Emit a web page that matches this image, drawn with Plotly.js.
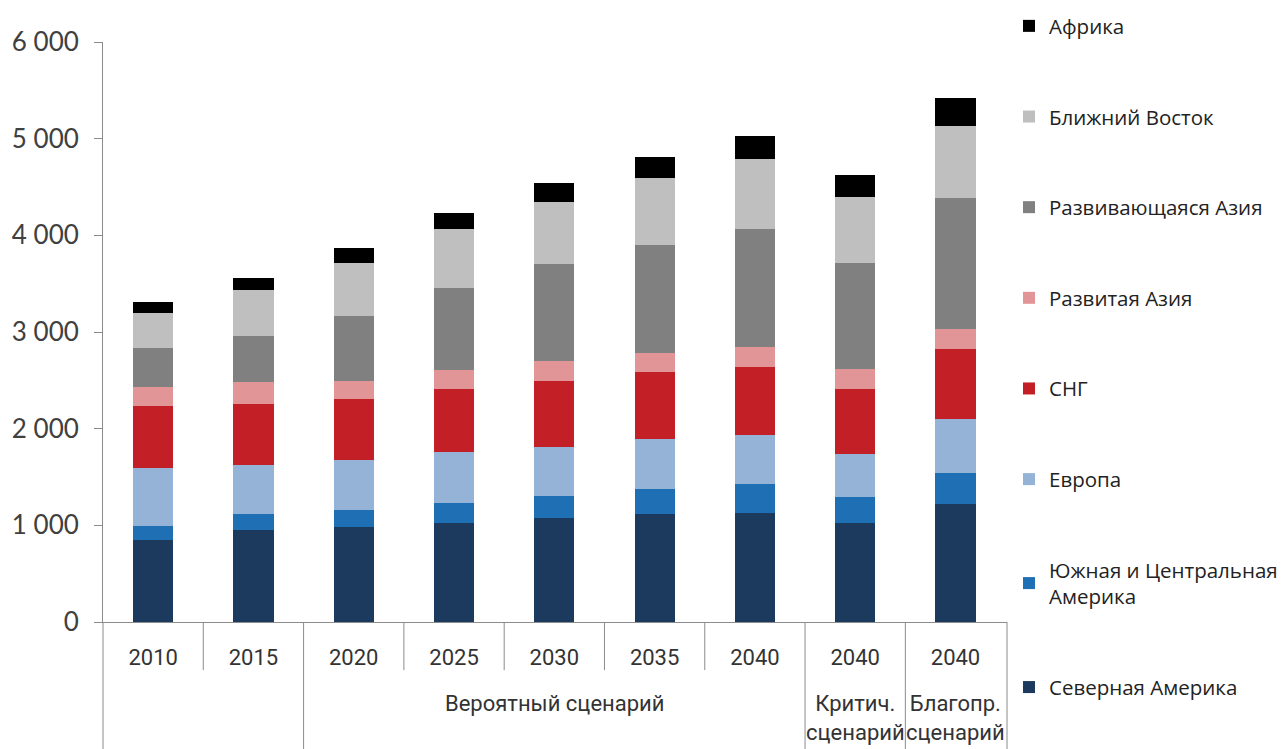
<!DOCTYPE html>
<html>
<head>
<meta charset="utf-8">
<script src="https://cdn.plot.ly/plotly-3.0.1.min.js"></script>
<style>
  html, body { margin: 0; padding: 0; background: #ffffff; }
  #chart { width: 1286px; height: 749px; }
</style>
</head>
<body>
<div id="chart"></div>
<script>
// Category keys (unique) and their displayed year labels
const categories = ["2010", "2015", "2020", "2025", "2030", "2035", "2040", "2040k", "2040b"];
const yearLabels = ["2010", "2015", "2020", "2025", "2030", "2035", "2040", "2040", "2040"];

// Scenario group labels
const groupLabels = ["Вероятный сценарий", "Критич.<br>сценарий", "Благопр.<br>сценарий"];

// Series (bottom to top of the stack)
const northAmerica   = [848, 951, 985, 1027, 1072, 1118, 1128, 1025, 1217];
const southCentral   = [148, 163, 173, 200, 231, 258, 296, 270, 325];
const europe         = [600, 510, 517, 528, 510, 517, 506, 443, 554];
const cis            = [638, 630, 628, 651, 682, 691, 709, 673, 731];
const developedAsia  = [199, 225, 192, 200, 207, 203, 204, 202, 204];
const developingAsia = [397, 482, 673, 851, 997, 1112, 1218, 1097, 1355];
const middleEast     = [369, 472, 541, 604, 641, 690, 731, 687, 746];
const africa         = [113, 124, 156, 172, 203, 222, 240, 230, 288];

const seriesNames = [
  "Северная Америка",
  "Южная и Центральная<br>Америка",
  "Европа",
  "СНГ",
  "Развитая Азия",
  "Развивающаяся Азия",
  "Ближний Восток",
  "Африка"
];
const seriesValues = [northAmerica, southCentral, europe, cis, developedAsia, developingAsia, middleEast, africa];
const seriesColors = ["#1c3a5e", "#1f6fb5", "#95b3d7", "#c21f27", "#e29596", "#808080", "#bfbfbf", "#000000"];

const traces = seriesNames.map((name, i) => ({
  type: "bar",
  name: name,
  x: categories,
  y: seriesValues[i],
  legendgroup: "g" + i,
  legendrank: 100 - i,
  marker: { color: seriesColors[i], line: { width: 0 } },
  hoverinfo: "y+name"
}));

const lineColor = "#8c8c8c";
const shortDividers = [0.5, 2.5, 3.5, 4.5, 5.5];
const longDividers = [1.5, 6.5, 7.5];
const shapes = [];
shortDividers.forEach(p => shapes.push({
  type: "line", xref: "x", yref: "paper", x0: p, x1: p, y0: 0, y1: -0.083,
  line: { color: lineColor, width: 1 }
}));
longDividers.forEach(p => shapes.push({
  type: "line", xref: "x", yref: "paper", x0: p, x1: p, y0: 0, y1: -0.23,
  line: { color: lineColor, width: 1 }
}));
[0, 1].forEach(p => shapes.push({
  type: "line", xref: "paper", yref: "paper", x0: p, x1: p, y0: 0, y1: -0.23,
  line: { color: lineColor, width: 1 }
}));

const groupFont = { family: "Roboto, Liberation Sans Narrow, sans-serif", size: 22, color: "#333333" };
const annotations = [
  { text: groupLabels[0], x: 4, y: -0.14, xref: "x", yref: "paper", showarrow: false,
    xanchor: "center", yanchor: "middle", font: groupFont },
  { text: groupLabels[1], x: 7, y: -0.166, xref: "x", yref: "paper", showarrow: false,
    xanchor: "center", yanchor: "middle", font: groupFont },
  { text: groupLabels[2], x: 8, y: -0.166, xref: "x", yref: "paper", showarrow: false,
    xanchor: "center", yanchor: "middle", font: groupFont }
];

const layout = {
  width: 1286,
  height: 749,
  margin: { l: 103, r: 279, t: 42, b: 127, pad: 0, autoexpand: false },
  paper_bgcolor: "#ffffff",
  plot_bgcolor: "#ffffff",
  barmode: "stack",
  bargap: 0.6,
  separators: ", ",
  showlegend: true,
  legend: {
    x: 1.0022, xanchor: "left",
    y: 1.062, yanchor: "top",
    traceorder: "grouped",
    tracegroupgap: 61,
    maxheight: 745,
    font: { family: "Open Sans, Noto Sans, sans-serif", size: 20.5, color: "#222222" },
    bgcolor: "rgba(0,0,0,0)",
    borderwidth: 0,
    itemclick: false,
    itemdoubleclick: false
  },
  xaxis: {
    type: "category",
    tickmode: "array",
    tickvals: categories,
    ticktext: yearLabels,
    ticks: "outside",
    ticklen: 16,
    tickcolor: "rgba(0,0,0,0)",
    showline: true,
    linecolor: lineColor,
    linewidth: 1,
    showgrid: false,
    zeroline: false,
    tickfont: groupFont,
    fixedrange: true
  },
  yaxis: {
    range: [0, 6000],
    dtick: 1000,
    tick0: 0,
    ticks: "outside",
    ticklen: 8,
    tickcolor: lineColor,
    showline: true,
    linecolor: lineColor,
    linewidth: 1,
    showgrid: false,
    zeroline: false,
    separatethousands: true,
    tickformat: ",d",
    tickfont: { family: "Lato, Carlito, sans-serif", size: 26, color: "#404040" },
    ticklabelstandoff: 10,
    fixedrange: true
  },
  shapes: shapes,
  annotations: annotations
};

Plotly.newPlot("chart", traces, layout, { displayModeBar: false });
</script>
</body>
</html>
